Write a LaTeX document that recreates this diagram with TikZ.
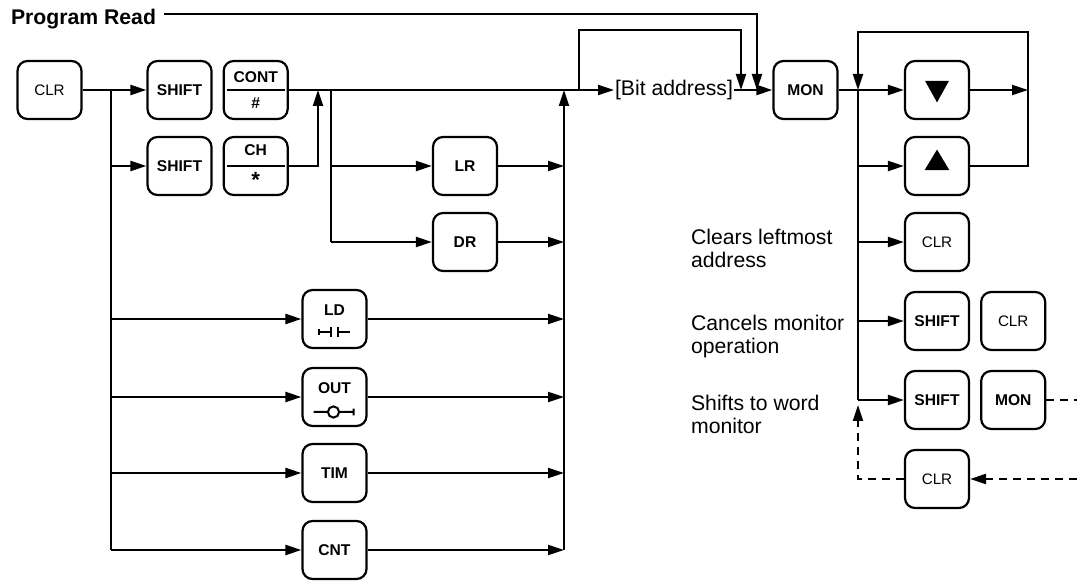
\documentclass[tikz,border=0pt]{standalone}
\usepackage{fontspec}
\setmainfont{Liberation Sans}
\usetikzlibrary{arrows.meta, positioning, calc}
\tikzset{
  keyfont/.style={font=\fontsize{7.8}{9.4}\selectfont\bfseries},
  key/.style={draw, line width=1.1pt, rounded corners=5pt, align=center,
              inner sep=0pt, minimum width=32pt, minimum height=29pt, keyfont},
  keyr/.style={key, font=\fontsize{7.6}{9}\selectfont},
  note/.style={font=\fontsize{10.6}{11.4}\selectfont, align=left,
               anchor=north west, inner sep=0pt},
  dashline/.style={dash pattern=on 4pt off 3pt},
}

\begin{document}
\begin{tikzpicture}[x=0.5pt, y=-0.5pt, line width=1.1pt,
    arr/.style={-{Triangle[length=8pt, width=5pt]}},
    sym/.style={line width=1pt}
]
  \useasboundingbox (0,0) rectangle (1077,582);

  \node[anchor=base west, inner sep=0pt, font=\fontsize{10.6}{12}\selectfont\bfseries] (title) at (10,25) {Program Read};

  \node[keyr] (clrA) at (49.5,90) {CLR};
  \node[key] (shiftA) at (179.5,90) {SHIFT};
  \node[key, right=5pt of shiftA] (cont) {CONT\\[4pt]\#};
  \node[key] (shiftB) at (179.5,166) {SHIFT};
  \node[key, right=5pt of shiftB] (ch) {CH\\[4pt]\raisebox{-3pt}{\fontsize{11}{11}\selectfont*}};
  \node[key] (lr) at (465,166) {LR};
  \node[key] (dr) at (465,242) {DR};
  \node[key, text depth=9pt] (ld) at (334.5,319) {LD};
  \node[key, text depth=9pt] (outk) at (334.5,397) {OUT};
  \node[key] (tim) at (334.5,473) {TIM};
  \node[key] (cnt) at (334.5,550) {CNT};

  \node[anchor=west, inner sep=0pt, font=\fontsize{10.6}{12}\selectfont] (bit) at (614,90) {[Bit address]};
  \node[key] (mon) at (805.5,90) {MON};

  \node[key] (dn) at (937,90) {};
  \node[key] (up) at (937,166) {};
  \node[keyr] (clrB) at (937,242) {CLR};
  \node[key] (shiftC) at (937,321) {SHIFT};
  \node[keyr, right=5pt of shiftC] (clrC) {CLR};
  \node[key] (shiftD) at (937,400) {SHIFT};
  \node[key, right=5pt of shiftD] (monD) {MON};
  \node[keyr] (clrD) at (937,479) {CLR};

  \node[note] (noteClr) at (690,228) {Clears leftmost\\address};
  \node[note] (noteCancel) at (690,314) {Cancels monitor\\operation};
  \node[note] (noteWord) at (690,394) {Shifts to word\\monitor};

  \draw ([xshift=2pt]cont.west) -- ([xshift=-2pt]cont.east);
  \draw ([xshift=2pt]ch.west) -- ([xshift=-2pt]ch.east);
  \draw[sym] ([shift={(-8pt,-4.8pt)}]ld.center) -- ([shift={(-8pt,-8.2pt)}]ld.center)
             ([shift={(-8pt,-6.5pt)}]ld.center) -- ([shift={(-1.7pt,-6.5pt)}]ld.center)
             ([shift={(-1.7pt,-3.8pt)}]ld.center) -- ([shift={(-1.7pt,-9.2pt)}]ld.center)
             ([shift={(1.5pt,-3.8pt)}]ld.center) -- ([shift={(1.5pt,-9.2pt)}]ld.center)
             ([shift={(1.5pt,-6.5pt)}]ld.center) -- ([shift={(7.5pt,-6.5pt)}]ld.center);
  \draw[sym] ([shift={(-10.5pt,-7.5pt)}]outk.center) -- ([shift={(-3.3pt,-7.5pt)}]outk.center)
             ([shift={(-0.5pt,-7.5pt)}]outk.center) circle[radius=2.8pt]
             ([shift={(2.3pt,-7.5pt)}]outk.center) -- ([shift={(9.5pt,-7.5pt)}]outk.center)
             ([shift={(9.5pt,-5.8pt)}]outk.center) -- ([shift={(9.5pt,-9.2pt)}]outk.center);
  \fill ([shift={(-6pt,4.6pt)}]dn.center) -- ([shift={(6pt,4.6pt)}]dn.center)
        -- ([shift={(0pt,-6.2pt)}]dn.center) -- cycle;
  \fill ([shift={(-6.2pt,-2.1pt)}]up.center) -- ([shift={(6.2pt,-2.1pt)}]up.center)
        -- ([shift={(0pt,8.2pt)}]up.center) -- cycle;

  \coordinate (jL) at (111,90);
  \coordinate (jC) at (318,90);
  \coordinate (jM) at (331,90);
  \coordinate (jR) at (564,90);
  \coordinate (jB) at (579,90);
  \coordinate (inB) at (741,90);
  \coordinate (inA) at (757,90);
  \coordinate (jS) at (858,90);
  \coordinate (jE) at (1028,90);
  \coordinate (cTop) at (1028,32);
  \coordinate (jW) at (858,405);
  \coordinate (eR) at (1077,400);
  \coordinate (eR2) at (1077,479);

  \draw[arr] (clrA) -- (shiftA);
  \draw (jL) -- (jL |- cnt);
  \foreach \k in {shiftB, ld, outk, tim, cnt}
    \draw[arr] (jL |- \k) -- (\k);
  \draw[arr] (ch) -| (jC);
  \draw (jM) -- (jM |- dr);
  \foreach \k in {lr, dr}
    \draw[arr] (jM |- \k) -- (\k);
  \foreach \k in {lr, dr, ld, outk, tim, cnt}
    \draw[arr] (\k) -- (jR |- \k);
  \draw[arr] (jR |- cnt) -- (jR);
  \draw[arr] (cont) -- (bit);
  \draw[arr] (jB) -- ++(0,-60) -| (inB);
  \draw[arr] ([xshift=3.5pt,yshift=2.8pt]title.east) -| (inA);
  \draw[arr] (bit) -- (mon);

  \draw[arr] (mon) -- (dn);
  \draw (jS) -- (jS |- shiftD);
  \foreach \k in {up, clrB, shiftC, shiftD}
    \draw[arr] (jS |- \k) -- (\k);
  \draw[arr] (dn) -- (jE);
  \draw[arr] (up) -| (cTop) -| (jS);
  \draw[dashline] (monD) -- (eR);
  \draw[dashline, arr] (eR2) -- (clrD);
  \draw[dashline, arr] (clrD) -| (jW);
\end{tikzpicture}
\end{document}
